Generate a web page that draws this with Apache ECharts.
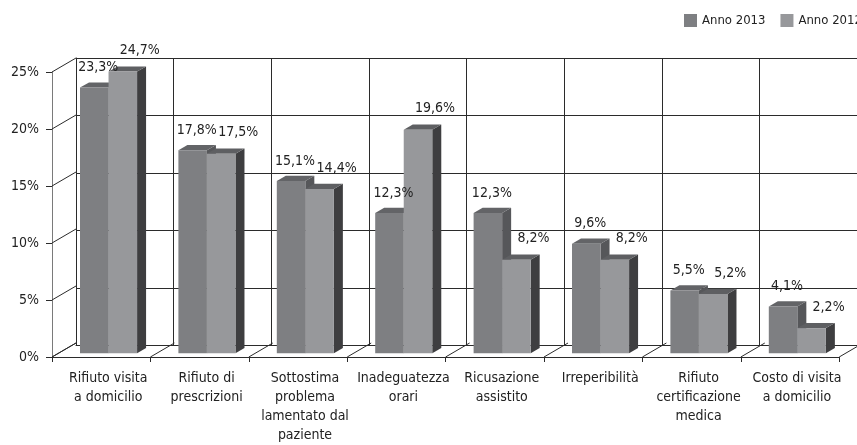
<!DOCTYPE html>
<html>
<head>
<meta charset="utf-8">
<script src="https://cdn.jsdelivr.net/npm/echarts@6/dist/echarts.min.js"></script>
<style>
  html, body { margin: 0; padding: 0; background: #ffffff; }
  #chart { width: 857px; height: 445px; }
</style>
</head>
<body>
<div id="chart"></div>
<script>
// Categories (line breaks as they appear under the axis)
const categories = [
  'Rifiuto visita\na domicilio',
  'Rifiuto di\nprescrizioni',
  'Sottostima\nproblema\nlamentato dal\npaziente',
  'Inadeguatezza\norari',
  'Ricusazione\nassistito',
  'Irreperibilità',
  'Rifiuto\ncertificazione\nmedica',
  'Costo di visita\na domicilio'
];
const seriesNames = ['Anno 2013', 'Anno 2012'];
const values2013 = [23.3, 17.8, 15.1, 12.3, 12.3, 9.6, 5.5, 4.1];
const values2012 = [24.7, 17.5, 14.4, 19.6, 8.2, 8.2, 5.2, 2.2];
const yTicks = [0, 5, 10, 15, 20, 25];

const FONT = '"DejaVu Sans Condensed", "Liberation Sans Narrow", "DejaVu Sans", sans-serif';
const TEXT = '#222222';
const LINE = '#2b2b2b';

// Depth of the pseudo-3D box (back wall offset from the front plane)
const DEPTH_X = 24, DEPTH_Y = -14;
// Bars sit partway into the box
const BAR_SHIFT_X = 6, BAR_SHIFT_Y = -3.8;
const BAR_DX = 9, BAR_DY = -5.2;
const BAR_START = 0.2236; // fraction of the band before the first bar
const BAR_W = 0.29;       // fraction of the band per bar

const palette = [
  { front: '#7e7f82', top: '#636467', side: '#56575a' },
  { front: '#97989b', top: '#5e5f62', side: '#3e3e40' }
];

function fmt(v) { return v.toFixed(1).replace('.', ',') + '%'; }

function barGeom(api, i, v, k) {
  const band = api.size([1, 0])[0];
  const base = api.coord([i, 0]);
  const top = api.coord([i, v]);
  const w = band * BAR_W;
  const x0 = base[0] - band / 2 + band * BAR_START + k * w + BAR_SHIFT_X;
  return { x0: x0, w: w, yb: base[1] + BAR_SHIFT_Y, yt: top[1] + BAR_SHIFT_Y };
}

function barRenderer(k) {
  const c = palette[k];
  return function (params, api) {
    const g = barGeom(api, api.value(0), api.value(1), k);
    const x0 = g.x0, w = g.w, yb = g.yb, yt = g.yt;
    return {
      type: 'group',
      children: [
        { type: 'polygon', shape: { points: [[x0 + w, yb], [x0 + w + BAR_DX, yb + BAR_DY], [x0 + w + BAR_DX, yt + BAR_DY], [x0 + w, yt]] }, style: { fill: c.side } },
        { type: 'polygon', shape: { points: [[x0, yt], [x0 + w, yt], [x0 + w + BAR_DX, yt + BAR_DY], [x0 + BAR_DX, yt + BAR_DY]] }, style: { fill: c.top } },
        { type: 'rect', shape: { x: x0, y: yt, width: w, height: yb - yt }, style: { fill: c.front } }
      ]
    };
  };
}

// Value labels for both years
function labelRenderer(params, api) {
  const i = api.value(0);
  const a = api.value(1), b = api.value(2);
  const g1 = barGeom(api, i, a, 0);
  const g2 = barGeom(api, i, b, 1);
  const st = { font: '14px ' + FONT, fill: TEXT, align: 'center', verticalAlign: 'middle' };
  return {
    type: 'group',
    children: [
      { type: 'text', style: Object.assign({ x: g1.x0 + g1.w / 2 + 4, y: g1.yt - 20, text: fmt(a) }, st) },
      { type: 'text', style: Object.assign({ x: g2.x0 + g2.w / 2 + 17, y: g2.yt - 21, text: fmt(b) }, st) }
    ]
  };
}

// Diagonals joining the front value axis to the back wall
function wallRenderer(params, api) {
  const v = api.value(1);
  const band = api.size([1, 0])[0];
  const p = api.coord([0, v]);
  const x = p[0] - band / 2;
  return {
    type: 'line',
    shape: { x1: x, y1: p[1], x2: x + DEPTH_X, y2: p[1] + DEPTH_Y },
    style: { stroke: LINE, lineWidth: 1 }
  };
}

// Floor diagonals at category boundaries
function floorRenderer(params, api) {
  const idx = api.value(0);
  const band = api.size([1, 0])[0];
  const p = api.coord([0, 0]);
  const x = p[0] - band / 2 + idx * band;
  return {
    type: 'line',
    shape: { x1: x, y1: p[1], x2: x + DEPTH_X, y2: p[1] + DEPTH_Y },
    style: { stroke: LINE, lineWidth: 1 }
  };
}

const boundaries = categories.map((c, i) => [i]).concat([[categories.length]]);

const chart = echarts.init(document.getElementById('chart'), null, { renderer: 'canvas' });
chart.setOption({
  animation: false,
  backgroundColor: '#ffffff',
  textStyle: { fontFamily: FONT },
  legend: {
    data: seriesNames,
    left: 684,
    top: 14,
    width: 300,
    padding: 0,
    itemWidth: 13,
    itemHeight: 13,
    itemGap: 15,
    icon: 'rect',
    textStyle: { fontSize: 13, color: TEXT, fontFamily: FONT }
  },
  grid: [
    { left: 52, right: 17.8, top: 72, bottom: 85.5 },
    { left: 76, right: -6.2, top: 58, bottom: 99.5 }
  ],
  xAxis: [
    {
      type: 'category', gridIndex: 0, data: categories,
      axisLine: { show: true, lineStyle: { color: LINE, width: 1 } },
      axisTick: { show: true, interval: 0, length: 5, lineStyle: { color: LINE } },
      axisLabel: {
        interval: 0, fontSize: 14, lineHeight: 19, color: TEXT, fontFamily: FONT,
        margin: 12, padding: [0, 0, 0, 14]
      },
      splitLine: { show: false }
    },
    {
      type: 'category', gridIndex: 1, data: categories,
      axisLine: { show: true, lineStyle: { color: LINE, width: 1 } },
      axisTick: { show: false, interval: 0 },
      axisLabel: { show: false, interval: 0 },
      splitLine: { show: true, interval: 0, lineStyle: { color: LINE, width: 1 } }
    }
  ],
  yAxis: [
    {
      type: 'value', gridIndex: 0, min: 0, max: 25, interval: 5,
      axisLine: { show: true, lineStyle: { color: '#7a7a7a', width: 1 } },
      axisTick: { show: true, length: 6, lineStyle: { color: LINE } },
      axisLabel: { formatter: '{value}%', fontSize: 14, color: TEXT, fontFamily: FONT, margin: 13 },
      splitLine: { show: false }
    },
    {
      type: 'value', gridIndex: 1, min: 0, max: 25, interval: 5,
      axisLine: { show: true, lineStyle: { color: LINE, width: 1 } },
      axisTick: { show: false }, axisLabel: { show: false },
      splitLine: { show: true, lineStyle: { color: LINE, width: 1 } }
    }
  ],
  series: [
    {
      type: 'custom', name: 'wall', xAxisIndex: 0, yAxisIndex: 0, z: 1, silent: true,
      renderItem: wallRenderer, data: yTicks.map(v => [0, v]), encode: { x: 0, y: 1 }
    },
    {
      type: 'custom', name: 'floor', xAxisIndex: 0, yAxisIndex: 0, z: 1, silent: true,
      renderItem: floorRenderer, data: boundaries, encode: { x: 0 }
    },
    {
      type: 'custom', name: seriesNames[0], xAxisIndex: 0, yAxisIndex: 0, z: 3,
      itemStyle: { color: palette[0].front },
      renderItem: barRenderer(0), data: values2013.map((v, i) => [i, v]), encode: { x: 0, y: 1 }
    },
    {
      type: 'custom', name: seriesNames[1], xAxisIndex: 0, yAxisIndex: 0, z: 4,
      itemStyle: { color: palette[1].front },
      renderItem: barRenderer(1), data: values2012.map((v, i) => [i, v]), encode: { x: 0, y: 1 }
    },
    {
      type: 'custom', name: 'labels', xAxisIndex: 0, yAxisIndex: 0, z: 6, silent: true,
      renderItem: labelRenderer,
      data: values2013.map((v, i) => [i, v, values2012[i]]), encode: { x: 0, y: 1 }
    }
  ]
});
</script>
</body>
</html>
